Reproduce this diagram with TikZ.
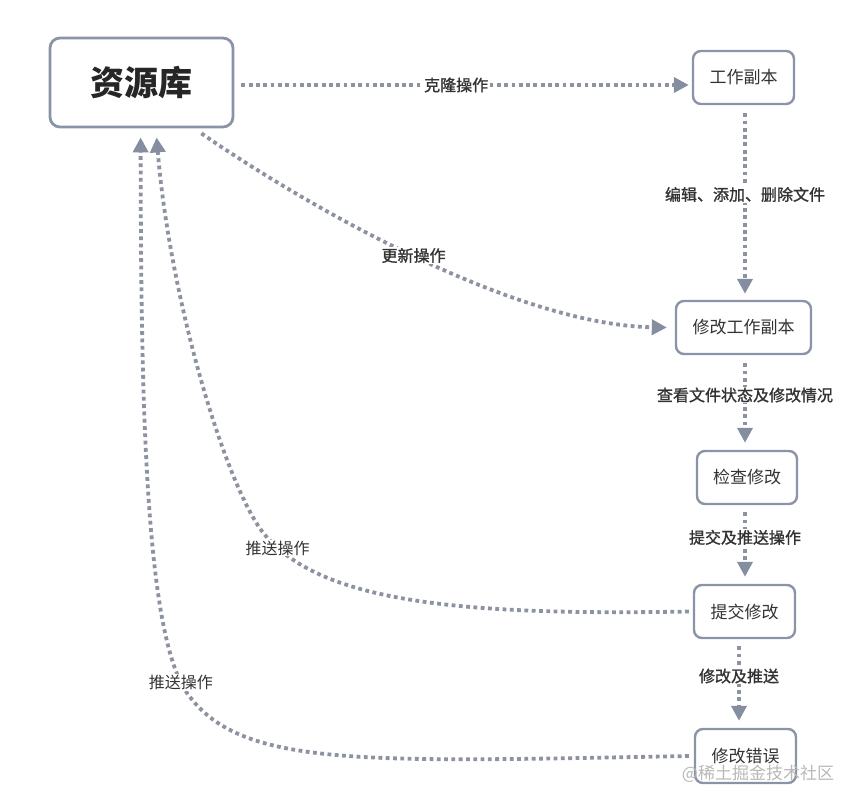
\documentclass[tikz,border=0pt]{standalone}
\usepackage{fontspec}
\newfontfamily\cjk{Noto Sans CJK SC}
\newfontfamily\cjkm{Noto Sans CJK SC}[FakeBold=1.2]
\usetikzlibrary{arrows.meta}
\definecolor{linec}{HTML}{8C929F}
\definecolor{tipc}{HTML}{858EA0}
\definecolor{boxc}{HTML}{8A94A6}
\definecolor{txt}{HTML}{333333}
\definecolor{wmark}{HTML}{B8B8B8}
\tikzset{
  box/.style={draw=boxc, line width=2.4pt, rounded corners=8pt, fill=white, text=txt,
    font=\cjk\fontsize{17}{20}\selectfont, inner sep=0pt},
  bigbox/.style={box, rounded corners=10pt, line width=2.8pt, text=black!85,
    font=\cjk\bfseries\fontsize{34}{40}\selectfont},
  link/.style={draw=linec, line width=3.8pt, dash pattern=on 3.8pt off 3.5pt,
    -{Triangle[length=15pt,width=15pt,color=tipc]}},
  lab/.style={fill=white, text=txt, font=\cjkm\fontsize{16}{19}\selectfont, inner sep=1pt},
  labr/.style={lab, font=\cjk\fontsize{16}{19}\selectfont}
}
\begin{document}
\begin{tikzpicture}[x=1pt,y=-1pt]
\useasboundingbox (0,0) rectangle (861,806);
\node[bigbox, minimum width=183pt, minimum height=89pt] (zyk) at (141.5,82.5) {资源库};
\node[box, minimum width=101pt, minimum height=53pt] (gzfb) at (743.5,77.5) {工作副本};
\node[box, minimum width=135pt, minimum height=53pt] (xg) at (743.5,327.5) {修改工作副本};
\node[box, minimum width=100pt, minimum height=53pt] (jc) at (747,477.5) {检查修改};
\node[box, minimum width=101pt, minimum height=53pt] (tj) at (744.5,611.5) {提交修改};
\node[box, minimum width=101pt, minimum height=54pt] (cw) at (745.5,756) {修改错误};

\draw[link] ([xshift=7pt,yshift=-2.5pt]zyk.east) -- ([xshift=-3pt,yshift=-7.5pt]gzfb.west)
  node[lab,pos=0.48] {克隆操作};
\draw[link] ([xshift=1.5pt,yshift=-8pt]gzfb.south) -- ([xshift=1.5pt,yshift=6pt]xg.north)
  node[lab,pos=0.45] {编辑、添加、删除文件};
\draw[link] ([xshift=1.5pt,yshift=-8pt]xg.south) -- ([xshift=-2pt,yshift=7pt]jc.north)
  node[lab,pos=0.4] {查看文件状态及修改情况};
\draw[link] ([xshift=-2pt,yshift=-7pt]jc.south) -- ([xshift=0.5pt,yshift=7pt]tj.north)
  node[lab,pos=0.39] {提交及推送操作};
\draw[link] ([xshift=-5.5pt,yshift=-7pt]tj.south) -- ([xshift=-6.5pt,yshift=7pt]cw.north)
  node[lab,pos=0.4] {修改及推送};

\draw[link] ([xshift=-33pt,yshift=-5pt]zyk.south east)
  .. controls (320,215) and (520,325) .. ([xshift=-8pt]xg.west)
  node[lab,pos=0.48] {更新操作};

\coordinate (m1) at (265,535);
\draw[link] ([xshift=-4pt]tj.west)
  .. controls (450,616) and (320,600) .. (m1)
  node[labr,pos=0.93] {推送操作}
  .. controls (226.5,489.5) and (170,300) .. ([xshift=108pt,yshift=-9pt]zyk.south west);

\coordinate (m2) at (187,693);
\draw[link] ([xshift=-5pt]cw.west)
  .. controls (360,762) and (240,768) .. (m2)
  .. controls (145,633) and (141,400) .. ([xshift=92pt,yshift=-9pt]zyk.south west)
  node[labr,pos=0.05] {推送操作};

\node[text=wmark, font=\cjk\fontsize{17}{20}\selectfont, inner sep=0pt] (wm) at (758,774) {@稀土掘金技术社区};
\end{tikzpicture}
\end{document}
